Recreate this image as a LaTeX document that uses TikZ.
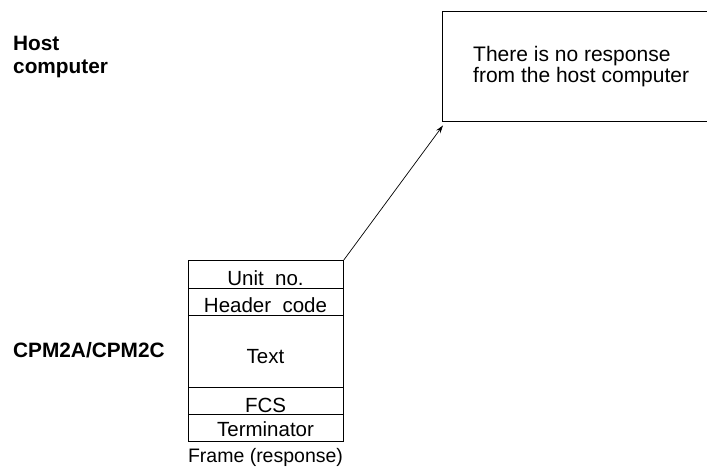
\documentclass[tikz,border=0pt]{standalone}
\usepackage{fontspec}
\setmainfont{Liberation Sans}
\usetikzlibrary{arrows.meta}
\begin{document}
\begin{tikzpicture}[x=1pt,y=-1pt,
  every node/.style={font=\fontsize{20.5}{23}\selectfont, inner sep=0pt},
  boxline/.style={draw=black, line width=0.8pt},
  rowtext/.style={anchor=base},
  sidelabel/.style={anchor=base west, font=\fontsize{20.8}{23}\selectfont\bfseries},
  conn/.style={line width=0.7pt, -{Stealth[length=8pt,width=5pt]}}]
\useasboundingbox (0,0) rectangle (707,469);
\clip (0,0) rectangle (707,469);
% side labels
\node[sidelabel] (host1) at (13,50) {Host};
\node[sidelabel] (host2) at (13,73) {computer};
\node[sidelabel] (cpm) at (13,357) {CPM2A/CPM2C};
% frame
\node[boxline, anchor=north west, minimum width=155pt, minimum height=181pt] (frame) at (188,260) {};
\foreach \yy in {288,315,387,414}{
  \draw[line width=0.8pt] (frame.west |- 0,\yy) -- (frame.east |- 0,\yy);
}
\node[rowtext] (unit) at (265.5,285) {Unit\ \ no.};
\node[rowtext] (hdr) at (265.5,312) {Header\ \ code};
\node[rowtext] (txt) at (265.5,363) {Text};
\node[rowtext] (fcs) at (265.5,412) {FCS};
\node[rowtext] (term) at (265.5,436) {Terminator};
\node[rowtext, font=\fontsize{19.5}{22}\selectfont] (cap) at (265.5,462) {Frame (response)};
% response box (right side runs off the picture)
\node[anchor=north west, minimum width=275pt, minimum height=110pt] (resp) at (442,11) {};
\draw[line width=0.8pt] (resp.north east) -- (resp.north west) -- (resp.south west) -- (resp.south east);
\node[anchor=base west, font=\fontsize{21}{23}\selectfont] (r1) at (473,61) {There is no response};
\node[anchor=base west, font=\fontsize{21}{23}\selectfont] (r2) at (473,82) {from the host computer};
% connector
\draw[conn] (frame.north east) -- ([shift={(1pt,-4pt)}]resp.south west);
\end{tikzpicture}
\end{document}
